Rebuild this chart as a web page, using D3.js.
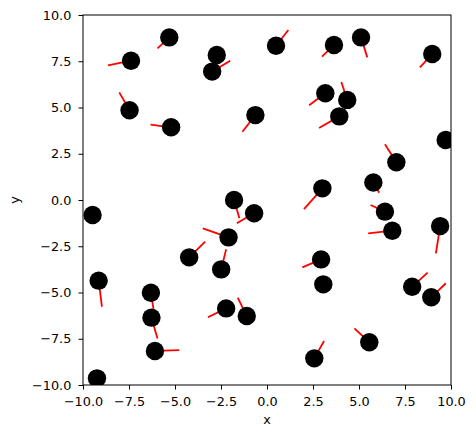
<!DOCTYPE html>
<html>
<head>
<meta charset="utf-8">
<script src="https://cdn.jsdelivr.net/npm/d3@7"></script>
<style>
  body { margin: 0; background: #fff; }
  text { font-family: "DejaVu Sans", sans-serif; }
</style>
</head>
<body>
<script>
// point positions
var xs = [-5.31, -7.39, -2.73, -2.98, 0.49, 3.64, 5.11, 8.98, -7.47, -5.21,
          -0.63, 3.17, 4.36, 3.93, 9.71, 7.03, 5.78, 3.01, -1.79, -0.70,
          -9.48, 6.41, 6.81, 9.41, -2.09, -4.23, -2.49, 2.94, -9.15, 3.06,
          -6.31, 7.89, 8.93, -6.28, -2.22, -1.10, -6.09, 5.56, 2.57, -9.24];
var ys = [8.79, 7.53, 7.84, 6.94, 8.34, 8.38, 8.79, 7.89, 4.85, 3.93,
          4.59, 5.77, 5.41, 4.52, 3.24, 2.04, 0.95, 0.63, 0.00, -0.72,
          -0.81, -0.63, -1.66, -1.41, -2.02, -3.10, -3.75, -3.21, -4.36, -4.56,
          -5.01, -4.69, -5.26, -6.36, -5.86, -6.27, -8.16, -7.69, -8.56, -9.64];
// direction vectors (red segments)
var dxs = [-0.64, -1.25, 0.00, 0.98, 0.67, -0.65, 0.34, -0.67, -0.56, -1.12,
           -0.71, -0.88, -0.32, -1.10, 0.30, -0.62, 0.32, -1.00, 0.29, -0.94,
           0.20, -0.78, -1.31, -0.23, -1.40, 0.87, 0.27, -1.02, 0.18, 0.20,
           0.14, 0.84, 0.79, 0.33, -0.99, -0.49, 1.32, -0.81, 0.53, 0.20];
var dys = [-0.59, -0.25, -0.40, 0.59, 0.85, -0.63, -1.08, -0.72, 0.97, 0.14,
           -0.90, -0.65, 0.97, -0.63, 0.20, 0.97, -0.56, -1.12, -0.99, -0.54,
           -0.30, 0.36, -0.14, -1.47, 0.49, 0.85, 1.09, -0.43, -1.41, 0.20,
           -0.88, 0.76, 0.76, -1.12, -0.48, 0.99, 0.05, 0.75, 0.94, 0.20];
var tickVals = [-10, -7.5, -5, -2.5, 0, 2.5, 5, 7.5, 10];

var width = 476, height = 438;
var margin = {left: 83, right: 25, top: 15, bottom: 53};
var w = width - margin.left - margin.right;
var h = height - margin.top - margin.bottom;
var fontSize = "12.8px";

var svg = d3.select("body").append("svg")
    .attr("width", width)
    .attr("height", height);

var x = d3.scaleLinear().domain([-10, 10]).range([0, w]);
var y = d3.scaleLinear().domain([-10, 10]).range([h, 0]);

var g = svg.append("g")
    .attr("transform", "translate(" + margin.left + "," + margin.top + ")");

g.append("clipPath").attr("id", "clip")
  .append("rect").attr("width", w).attr("height", h);

var plot = g.append("g").attr("clip-path", "url(#clip)");

var pts = xs.map(function(v, i){ return {x: v, y: ys[i], dx: dxs[i], dy: dys[i]}; });

plot.selectAll("line.dir")
    .data(pts)
    .enter().append("line")
    .attr("class", "dir")
    .attr("x1", d => x(d.x))
    .attr("y1", d => y(d.y))
    .attr("x2", d => x(d.x + d.dx))
    .attr("y2", d => y(d.y + d.dy))
    .style("stroke", "red")
    .style("stroke-width", 1.8);

plot.selectAll("circle")
    .data(pts)
    .enter().append("circle")
    .attr("cx", d => x(d.x))
    .attr("cy", d => y(d.y))
    .attr("r", 9.2)
    .style("fill", "black");

var fmt = d3.format(".1f");

var xAxis = g.append("g")
    .attr("transform", "translate(0," + h + ")")
    .call(d3.axisBottom(x).tickValues(tickVals).tickFormat(fmt).tickSizeOuter(0).tickSize(4.5).tickPadding(7.4));
var yAxis = g.append("g")
    .call(d3.axisLeft(y).tickValues(tickVals).tickFormat(fmt).tickSizeOuter(0).tickSize(4.5).tickPadding(7.2));

[xAxis, yAxis].forEach(function(a){
    a.select(".domain").remove();
    a.selectAll("line").style("stroke", "black").style("stroke-width", 1);
    a.selectAll("text").style("font-size", fontSize).style("fill", "black")
        .style("font-family", "'DejaVu Sans', sans-serif");
});

// frame
g.append("rect")
    .attr("width", w).attr("height", h)
    .style("fill", "none").style("stroke", "black").style("stroke-width", 1);

svg.append("text")
    .attr("x", margin.left + w / 2)
    .attr("y", 424)
    .attr("text-anchor", "middle")
    .style("font-size", fontSize)
    .text("x");

svg.append("text")
    .attr("transform", "translate(19," + (margin.top + h / 2) + ") rotate(-90)")
    .attr("text-anchor", "middle")
    .style("font-size", fontSize)
    .text("y");
</script>
</body>
</html>
